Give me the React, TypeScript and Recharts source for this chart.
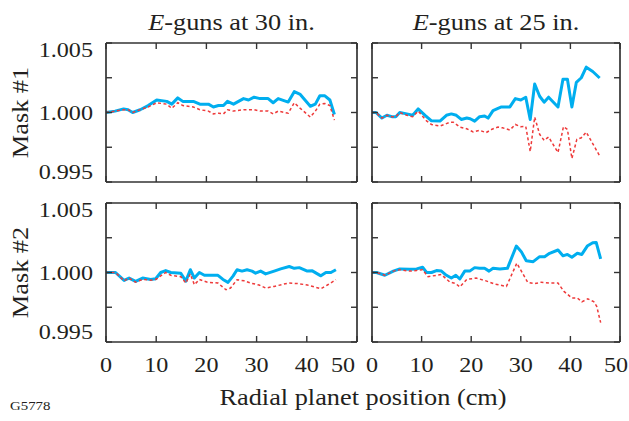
import React from 'react'
import { LineChart, Line, XAxis, YAxis } from 'recharts'

type Pt = [number, number]

const xTicks = [0, 10, 20, 30, 40, 50]
const yTicks = [0.995, 0.9975, 1.0, 1.0025, 1.005]
const yLabelValues = [0.995, 1.0, 1.005]
const gunDistances = ['30', '25']
const maskNames = ['Mask #1', 'Mask #2']

// mask #1, E-guns at 30 in.
const m1g30Solid: Pt[] = [
  [0, 1.0], [1.8, 1.0001], [3.5, 1.00026], [4.4, 1.0002], [5.3, 1.0], [6.8, 1.0002], [8.4, 1.0005],
  [10.1, 1.0009], [12.1, 1.0008], [13.1, 1.0006], [14.3, 1.00105], [15.3, 1.0008], [17.4, 1.0008],
  [18.7, 1.0006], [20.4, 1.0006], [21.4, 1.0004], [22.4, 1.0005], [23.4, 1.0005], [24.2, 1.0008],
  [25.4, 1.0006], [27.4, 1.001], [28.4, 1.0009], [29.5, 1.0011], [30.7, 1.001], [32.3, 1.001],
  [33.3, 1.0007], [34.3, 1.001], [36.3, 1.00075], [37.5, 1.0015], [38.7, 1.0013], [40.7, 1.00045],
  [41.7, 1.0006], [42.6, 1.0012], [43.6, 1.0012], [44.6, 1.0009], [45.5, 0.99986],
]
const m1g30Dashed: Pt[] = [
  [0, 1.0], [1.8, 1.0001], [3.5, 1.0002], [4.4, 1.0002], [5.3, 1.0], [6.8, 1.0002], [8.4, 1.0004],
  [10.1, 1.0007], [12.1, 1.0006], [13.1, 1.0003], [14.3, 1.0007], [15.3, 1.0005], [17.4, 1.0004],
  [18.7, 1.0002], [20.4, 1.0001], [21.4, 0.9999], [22.4, 0.99995], [23.4, 0.9999], [24.2, 1.0002],
  [25.4, 1.0001], [27.4, 1.0002], [28.4, 1.0002], [29.5, 1.0002], [30.7, 1.0001], [32.3, 1.0001],
  [33.3, 0.9999], [34.3, 1.0001], [36.3, 0.99995], [37.5, 1.0007], [38.7, 1.0003], [40.7, 0.99967],
  [41.7, 1.0001], [42.6, 1.0006], [43.6, 1.00065], [44.6, 1.0005], [45.5, 0.99945],
]

// mask #1, E-guns at 25 in.
const m1g25Solid: Pt[] = [
  [0, 1.0], [0.8, 1.0], [2.0, 0.9996], [3.0, 0.9998], [4.0, 0.9997], [4.8, 0.9997], [5.6, 1.0],
  [7.0, 0.9999], [8.2, 0.9998], [9.3, 1.00026], [10.7, 0.9998], [12.0, 0.9994], [13.7, 0.99938],
  [15.0, 0.9998], [16.0, 0.9999], [17.0, 0.9998], [18.0, 0.9995], [19.1, 0.9996], [19.8, 0.99955],
  [20.7, 0.99938], [21.7, 0.9997], [22.7, 0.99975], [23.4, 0.9996], [24.4, 1.00014], [25.4, 1.0003],
  [26.1, 1.0004], [27.8, 1.0004], [28.9, 1.001], [30.0, 1.0009], [31.0, 1.0011], [31.9, 0.9995],
  [32.8, 1.00205], [33.8, 1.00117], [34.7, 1.00074], [35.6, 1.0011], [37.5, 1.0004], [38.5, 1.0024],
  [39.4, 1.0024], [40.3, 1.0004], [41.2, 1.00217], [42.2, 1.0025], [43.2, 1.00326], [44.5, 1.00295],
  [45.9, 1.00248],
]
const m1g25Dashed: Pt[] = [
  [0, 1.0], [0.8, 1.0], [2.0, 0.9996], [3.0, 0.9998], [4.0, 0.9997], [4.8, 0.9997], [5.6, 1.0],
  [7.0, 0.9998], [8.2, 0.9997], [9.3, 1.0001], [11.0, 0.9994], [12.0, 0.99914], [13.7, 0.99902],
  [15.0, 0.9992], [15.7, 0.9993], [16.4, 0.9993], [17.7, 0.99895], [19.1, 0.99883], [20.4, 0.9986],
  [21.7, 0.99872], [23.0, 0.99855], [24.2, 0.9988], [25.4, 0.99895], [26.3, 0.9989], [27.8, 0.99874],
  [28.9, 0.99914], [30.0, 0.99898], [31.0, 0.999], [31.9, 0.99719], [32.8, 0.99967], [33.8, 0.99843],
  [34.7, 0.998], [35.6, 0.99824], [37.5, 0.99712], [38.6, 0.99898], [39.4, 0.99879], [40.3, 0.99669],
  [41.3, 0.99807], [42.2, 0.99818], [43.2, 0.99859], [44.5, 0.99776], [45.9, 0.99688],
]

// mask #2, E-guns at 30 in.
const m2g30Solid: Pt[] = [
  [0, 1.0], [1.9, 1.0], [3.6, 0.99943], [4.6, 0.9996], [5.9, 0.99936], [7.3, 0.9996], [8.9, 0.9995],
  [9.9, 0.99955], [10.9, 1.0], [11.9, 1.00014], [12.9, 1.0], [14.9, 0.99995], [15.9, 0.99938],
  [16.8, 1.0002], [17.6, 0.9996], [18.6, 1.0], [19.6, 0.9998], [22.3, 0.9998], [23.3, 0.9995],
  [24.3, 0.99929], [25.3, 0.99974], [26.1, 1.0002], [27.1, 1.0001], [28.1, 1.0002], [29.1, 1.0001],
  [29.8, 0.99995], [30.8, 1.0001], [31.8, 0.9999], [33.5, 1.0001], [34.8, 1.00026], [36.5, 1.00043],
  [37.5, 1.0003], [38.5, 1.00035], [40.1, 1.0001], [41.1, 1.00012], [42.8, 0.99976], [43.8, 1.0],
  [44.8, 1.0], [45.8, 1.0002],
]
const m2g30Dashed: Pt[] = [
  [0, 1.0], [1.9, 1.0], [3.6, 0.9994], [4.6, 0.9996], [5.9, 0.9993], [7.3, 0.9995], [8.9, 0.99945],
  [9.9, 0.9995], [10.9, 0.99976], [11.9, 1.0], [12.9, 0.9998], [14.9, 0.9997], [15.9, 0.99924],
  [16.8, 0.9999], [17.6, 0.99912], [18.6, 0.9995], [20.2, 0.9993], [22.3, 0.99924], [23.9, 0.99876],
  [24.8, 0.99888], [26.1, 0.99948], [27.5, 0.9994], [28.8, 0.99924], [30.5, 0.9991], [31.8, 0.99888],
  [33.5, 0.999], [36.3, 0.99924], [38.3, 0.9992], [40.1, 0.9991], [42.8, 0.99883], [44.1, 0.9991],
  [45.8, 0.99948],
]

// mask #2, E-guns at 25 in.
const m2g25Solid: Pt[] = [
  [0, 1.0], [0.9, 1.0], [2.6, 0.9998], [4.3, 1.0001], [5.6, 1.00026], [7.6, 1.00024], [9.0, 1.00026],
  [10.2, 1.00038], [11.0, 1.0], [12.0, 1.0], [13.0, 1.00014], [14.0, 1.0001], [15.0, 0.9998],
  [16.0, 0.9996], [16.9, 0.9998], [17.7, 0.99953], [18.7, 1.0001], [19.7, 1.0001], [20.7, 1.00035],
  [21.7, 1.0003], [22.7, 1.0003], [23.6, 1.0001], [24.4, 1.0003], [25.8, 1.00025], [27.3, 1.0003],
  [29.1, 1.0019], [30.1, 1.0015], [31.1, 1.00084], [32.5, 1.00078], [33.8, 1.00114], [34.8, 1.00114],
  [35.8, 1.00138], [37.5, 1.00162], [38.5, 1.0012], [39.4, 1.0013], [40.3, 1.0011], [41.4, 1.00138],
  [42.3, 1.0013], [43.4, 1.0019], [44.5, 1.00214], [45.2, 1.00216], [46.1, 1.00098],
]
const m2g25Dashed: Pt[] = [
  [0, 1.0], [0.9, 1.0], [2.6, 0.9998], [4.3, 1.0001], [5.6, 1.0002], [7.6, 1.0001], [9.0, 1.00015],
  [10.2, 1.0002], [11.3, 0.9997], [13.0, 0.9998], [14.0, 0.99985], [15.7, 0.99931], [16.9, 0.9992],
  [17.7, 0.99896], [19.1, 0.9995], [21.0, 0.9996], [23.0, 0.9994], [24.7, 0.99917], [27.1, 0.999],
  [29.2, 1.00067], [31.4, 0.99929], [32.8, 0.9992], [34.1, 0.9993], [35.8, 0.99924], [37.5, 0.99924],
  [38.7, 0.99864], [40.3, 0.99817], [41.4, 0.99817], [42.3, 0.99789], [43.5, 0.9981], [44.7, 0.9979],
  [45.3, 0.99757], [46.1, 0.99639],
]

const INK = '#231f20'
const FRAME = '#333333'
const BLUE = '#00aeef'
const RED = '#ee3a3a'
const SERIF = '"Liberation Serif", "Times New Roman", serif'
const TICK = 6
const AX = 1 // axis box size, kept tiny so the frame sits on the plot edge

const toRows = (pts: Pt[]) => pts.map(([x, v]) => ({ x, v }))

const labelText = (x: number, y: number, text: string, anchor: string, size = 21, sx = 1.15) => (
  <text
    transform={`translate(${x},${y}) scale(${sx},1)`}
    textAnchor={anchor}
    fontSize={size}
    fontFamily={SERIF}
    fill={INK}
  >
    {text}
  </text>
)

interface PanelProps {
  left: number
  top: number
  width: number
  height: number
  solid: Pt[]
  dashed: Pt[]
  yLabels: boolean
  xLabels: boolean
  lastLabelDx: number
}

function Panel({ left, top, width, height, solid, dashed, yLabels, xLabels, lastLabelDx }: PanelProps) {
  const padL = yLabels ? 100 : 14
  const padR = 12
  const padT = 4
  const padB = xLabels ? 40 : 4

  const bottomTick = (props: any) => {
    const { x, y, payload } = props
    const v = payload.value
    return (
      <g>
        <line x1={x} y1={y} x2={x} y2={y - TICK} stroke={FRAME} strokeWidth={1.4} />
        {xLabels && labelText(x + (v === 50 ? lastLabelDx : 0), y + 30, String(v), 'middle')}
      </g>
    )
  }
  const topTick = (props: any) => {
    const { x, y } = props
    return <line x1={x} y1={y} x2={x} y2={y + TICK} stroke={FRAME} strokeWidth={1.4} />
  }
  const leftTick = (props: any) => {
    const { x, y, payload } = props
    const v = payload.value
    let dy = 7
    if (v === 1.005) dy = 13.5
    if (v === 0.995) dy = -3
    return (
      <g>
        <line x1={x} y1={y} x2={x + TICK} y2={y} stroke={FRAME} strokeWidth={1.4} />
        {yLabels && yLabelValues.includes(v) && labelText(x - 13, y + dy, v.toFixed(3), 'end')}
      </g>
    )
  }
  const rightTick = (props: any) => {
    const { x, y } = props
    return <line x1={x} y1={y} x2={x - TICK} y2={y} stroke={FRAME} strokeWidth={1.4} />
  }

  const axisLine = { stroke: FRAME, strokeWidth: 1.7 }

  return (
    <div style={{ position: 'absolute', left: left - padL, top: top - padT }}>
      <LineChart
        width={width + padL + padR}
        height={height + padT + padB}
        margin={{ top: padT - AX, right: padR - AX, bottom: padB - AX, left: padL - AX }}
      >
        <XAxis xAxisId="b" type="number" dataKey="x" domain={[0, 50]} ticks={xTicks} interval={0}
          orientation="bottom" height={AX} tickSize={0} tickMargin={0} tickLine={false}
          axisLine={axisLine} tick={bottomTick} allowDataOverflow />
        <XAxis xAxisId="t" type="number" dataKey="x" domain={[0, 50]} ticks={xTicks} interval={0}
          orientation="top" height={AX} tickSize={0} tickMargin={0} tickLine={false}
          axisLine={axisLine} tick={topTick} allowDataOverflow />
        <YAxis yAxisId="l" type="number" domain={[0.995, 1.005]} ticks={yTicks} interval={0}
          orientation="left" width={AX} tickSize={0} tickMargin={0} tickLine={false}
          axisLine={axisLine} tick={leftTick} allowDataOverflow />
        <YAxis yAxisId="r" type="number" domain={[0.995, 1.005]} ticks={yTicks} interval={0}
          orientation="right" width={AX} tickSize={0} tickMargin={0} tickLine={false}
          axisLine={axisLine} tick={rightTick} allowDataOverflow />
        <Line xAxisId="b" yAxisId="l" data={toRows(solid)} dataKey="v" type="linear"
          stroke={BLUE} strokeWidth={3} strokeLinejoin="round" dot={false} isAnimationActive={false} />
        <Line xAxisId="b" yAxisId="l" data={toRows(dashed)} dataKey="v" type="linear"
          stroke={RED} strokeWidth={1.5} strokeDasharray="3 2.5" dot={false} isAnimationActive={false} />
      </LineChart>
    </div>
  )
}

export default function App() {
  const cols = [
    { left: 106, width: 251 },
    { left: 372, width: 248 },
  ]
  const rows = [
    { top: 43, height: 139 },
    { top: 203, height: 139 },
  ]
  const series = [
    [m1g30Solid, m1g30Dashed, m1g25Solid, m1g25Dashed],
    [m2g30Solid, m2g30Dashed, m2g25Solid, m2g25Dashed],
  ]

  return (
    <div style={{ position: 'absolute', left: 0, top: 0, width: 629, height: 421, background: '#fff', overflow: 'hidden' }}>
      {rows.map((r, ri) =>
        cols.map((c, ci) => (
          <Panel
            key={`${ri}-${ci}`}
            left={c.left}
            top={r.top}
            width={c.width}
            height={r.height}
            solid={series[ri][ci * 2]}
            dashed={series[ri][ci * 2 + 1]}
            yLabels={ci === 0}
            xLabels={ri === 1}
            lastLabelDx={ci === 0 ? -14 : -4}
          />
        ))
      )}
      <svg width={629} height={421} style={{ position: 'absolute', left: 0, top: 0, pointerEvents: 'none' }}>
        {cols.map((c, ci) => (
          <text key={ci} transform={`translate(${c.left + c.width / 2},30) scale(1.17,1)`} textAnchor="middle"
            fontSize={22.5} fontFamily={SERIF} fill={INK}>
            <tspan fontStyle="italic">E</tspan>-guns at {gunDistances[ci]} in.
          </text>
        ))}
        {rows.map((r, ri) => (
          <text key={ri} transform={`translate(28,${r.top + r.height / 2}) rotate(-90) scale(1.17,1)`}
            textAnchor="middle" fontSize={22.5} fontFamily={SERIF} fill={INK}>
            {maskNames[ri]}
          </text>
        ))}
        {labelText(363, 405, 'Radial planet position (cm)', 'middle', 22.5, 1.17)}
        {labelText(10, 410, 'G5778', 'start', 13.5, 1.1)}
      </svg>
    </div>
  )
}
